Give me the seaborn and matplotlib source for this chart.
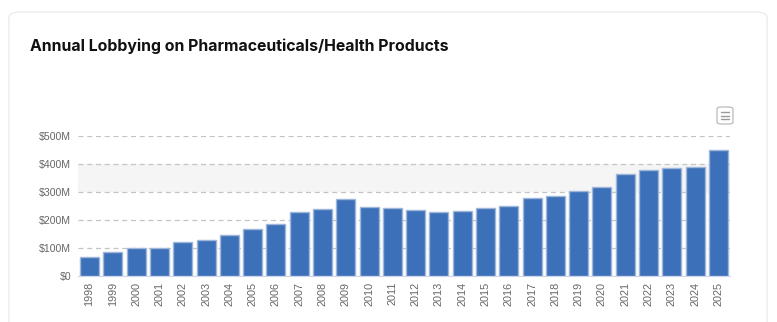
import matplotlib
matplotlib.use("Agg")
import matplotlib.pyplot as plt
from matplotlib.patches import FancyBboxPatch
import seaborn as sns
import pandas as pd

years = [str(y) for y in range(1998, 2026)]
spending_musd = [66.7, 84.5, 100, 100, 120, 127, 145, 167, 184.5, 227, 238, 274,
                 245, 242, 234.5, 227, 231, 242, 249, 277, 284.5, 303.5, 317,
                 363, 377, 384.5, 388, 449]
ytick_vals = [0, 100, 200, 300, 400, 500]
ytick_labels = ["$0", "$100M", "$200M", "$300M", "$400M", "$500M"]
title = "Annual Lobbying on Pharmaceuticals/Health Products"

df = pd.DataFrame({"year": years, "spending": spending_musd})

sns.set_theme(style="white")
plt.rcParams['font.family'] = ['Liberation Sans', 'DejaVu Sans']

W, H = 777, 322
fig = plt.figure(figsize=(W / 100, H / 100), dpi=100)
fig.patch.set_facecolor("white")

# card
card = FancyBboxPatch((9 / W, -0.2), (767 - 9) / W, (H - 12) / H + 0.2,
                      boxstyle="round,pad=0,rounding_size=0.016",
                      transform=fig.transFigure, facecolor="white",
                      edgecolor="#ececec", linewidth=1.0, zorder=-5)
fig.patches.append(card)

ax = fig.add_axes([78 / W, (H - 276) / H, (730 - 78) / W, (276 - 136) / H])
ax.set_zorder(2)
ax.set_facecolor("none")

ax.axhspan(300, 400, color="#f5f5f5", zorder=0, lw=0)
for v in ytick_vals[1:]:
    ax.axhline(v, color="#c4c4c4", lw=0.9, ls=(0, (4, 3)), zorder=1)

sns.barplot(data=df, x="year", y="spending", color="#3c70b8", saturation=1,
            width=0.82, edgecolor="#9db6da", linewidth=1.0, ax=ax, zorder=2)

ax.set_ylim(0, 500)
ax.set_xlim(-0.5, len(years) - 0.5)
ax.set_yticks(ytick_vals)
ax.set_yticklabels(ytick_labels)
ax.set_xlabel("")
ax.set_ylabel("")
ax.tick_params(axis="y", length=0, pad=5, labelsize=7.6, labelcolor="#666666")
ax.tick_params(axis="x", length=0, pad=4, labelsize=7.8, labelcolor="#666666",
               rotation=90)
for s in ["top", "right", "left"]:
    ax.spines[s].set_visible(False)
ax.spines["bottom"].set_color("#ccd6eb")
ax.spines["bottom"].set_linewidth(0.8)

fig.text(30 / W, 1 - 46 / H, title, fontsize=11.4, fontweight="bold",
         family=["Inter", "DejaVu Sans"], color="#111111", va="center", ha="left")

# menu icon
mx0, my0, mw, mh = 717, 107, 16, 17
menu = FancyBboxPatch((mx0 / W, 1 - (my0 + mh) / H), mw / W, mh / H,
                      boxstyle="round,pad=0,rounding_size=0.006",
                      transform=fig.transFigure, facecolor="white",
                      edgecolor="#bbbbbb", linewidth=0.9, zorder=5)
fig.patches.append(menu)
for dy in (112, 115.5, 119):
    fig.lines.append(plt.Line2D([(mx0 + 4) / W, (mx0 + mw - 4) / W],
                                [1 - dy / H, 1 - dy / H],
                                transform=fig.transFigure, color="#999999",
                                lw=1.0, zorder=6))

fig.savefig("out.png", dpi=100)
